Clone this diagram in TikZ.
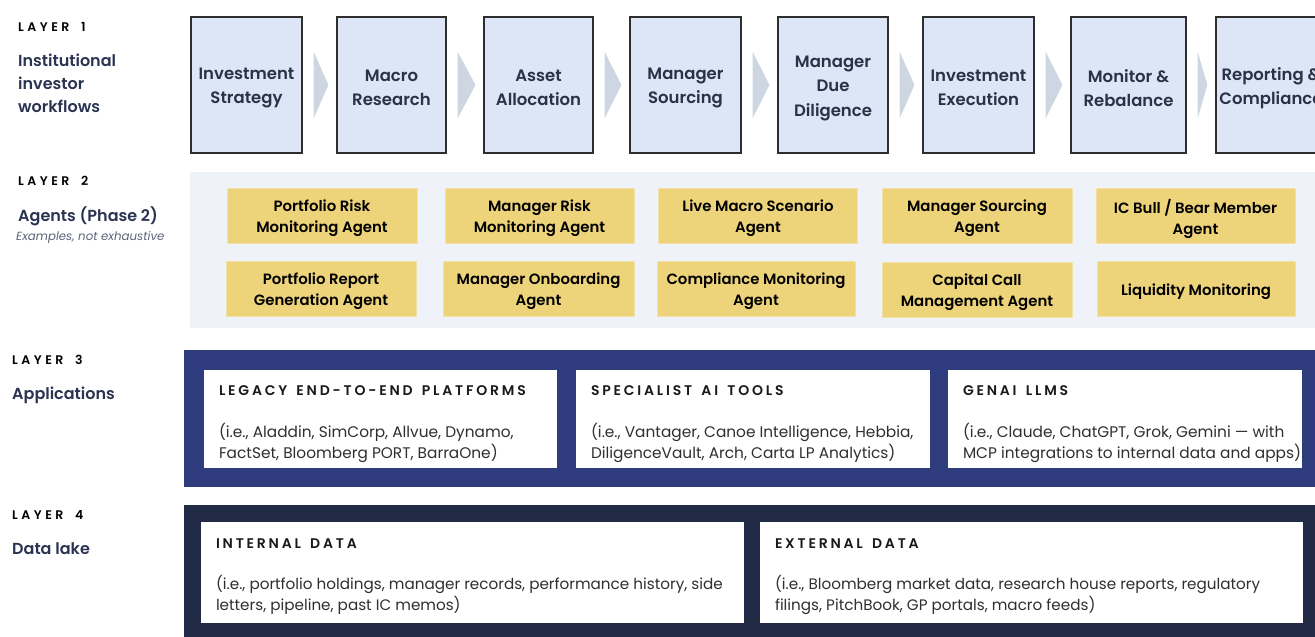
\documentclass[tikz,border=0pt]{standalone}
\usepackage{fontspec}
\setmainfont{Poppins}
\newfontfamily\semib{Poppins SemiBold}
\newfontfamily\trackb{Poppins SemiBold}[LetterSpace=28, WordSpace=1.8]
\newfontfamily\headb{Poppins SemiBold}[LetterSpace=20, WordSpace=1.5]
\usetikzlibrary{calc}

\definecolor{wffill}{HTML}{DCE6F6}
\definecolor{wfedge}{HTML}{2E2E2E}
\definecolor{wftext}{HTML}{283248}
\definecolor{chevc}{HTML}{CED6E2}
\definecolor{agentbg}{HTML}{EFF2F8}
\definecolor{agentfill}{HTML}{EDD37A}
\definecolor{agentedge}{HTML}{F3E2A6}
\definecolor{appsnavy}{HTML}{2E3B7C}
\definecolor{datanavy}{HTML}{212B45}
\definecolor{labelnavy}{HTML}{2A3352}
\definecolor{bodytext}{HTML}{2F2F2F}
\definecolor{notegray}{HTML}{5B6378}

\begin{document}
\begin{tikzpicture}[x=1pt,y=-1pt,
  layertag/.style={anchor=base west, inner sep=0pt, text=black,
    font=\trackb\fontsize{12.5}{14}\selectfont},
  layername/.style={anchor=base west, inner sep=0pt, text=labelnavy, align=left,
    font=\semib\fontsize{16}{23}\selectfont},
  wftxt/.style={align=center, text=wftext, inner sep=0pt, yshift=-3pt,
    font=\semib\fontsize{16.5}{24.5}\selectfont},
  wf/.style={draw=wfedge, line width=1.1pt, fill=wffill, minimum height=136pt,
    inner sep=0pt, label={[wftxt]center:#1}},
  chevron/.style={fill=chevc},
  agenttxt/.style={align=center, text=black, inner sep=0pt, yshift=-3pt,
    font=\semib\fontsize{14.9}{21}\selectfont},
  agent/.style={draw=agentedge, line width=0.8pt, fill=agentfill, minimum height=55pt,
    inner sep=0pt, label={[agenttxt]center:#1}},
  whitebox/.style={fill=white, inner sep=0pt},
  boxhead/.style={anchor=base west, inner sep=0pt, text=black!90,
    font=\headb\fontsize{14}{16}\selectfont},
  appbody/.style={anchor=base west, inner sep=0pt, text=bodytext, align=left,
    font=\fontsize{15.35}{21}\selectfont},
  databody/.style={anchor=base west, inner sep=0pt, text=bodytext, align=left,
    font=\fontsize{15.2}{21}\selectfont},
]
\useasboundingbox (0,0) rectangle (1315,637);
\clip (0,0) rectangle (1315,637);

% ---------- Layer 1: workflow steps ----------
\node[layertag] (t1) at (18,31.5) {LAYER 1};
\node[layername] (n1) at (18,112) {Institutional\\investor\\workflows};

\node[wf={Investment\\Strategy}, minimum width=111pt] (w1) at (246.5,85) {};
\node[wf={Macro\\Research}, minimum width=109pt] (w2) at (391.5,85) {};
\node[wf={Asset\\Allocation}, minimum width=109pt] (w3) at (538.5,85) {};
\node[wf={Manager\\Sourcing}, minimum width=111pt] (w4) at (685.5,85) {};
\node[wf={Manager\\Due\\Diligence}, minimum width=110pt] (w5) at (833,85) {};
\node[wf={Investment\\Execution}, minimum width=111pt] (w6) at (978.5,85) {};
\node[wf={Monitor \&\\Rebalance}, minimum width=115pt] (w7) at (1128.5,85) {};
\node[wf={Reporting \&\\Compliance}, minimum width=110pt] (w8) at (1271,85) {};

% chevrons between consecutive steps
\foreach \a/\b in {w1/w2,w2/w3,w3/w4,w4/w5,w5/w6,w6/w7,w7/w8}{
  \fill[chevron] ([shift={(11,-33.5)}]\a.east) -- ([shift={(-8,0)}]\b.west)
    -- ([shift={(11,33.5)}]\a.east) -- cycle;
}

% ---------- Layer 2: agents ----------
\node[layertag] (t2) at (18,185.5) {LAYER 2};
\node[layername] (n2) at (18,221) {Agents (Phase 2)};
\node[anchor=base west, inner sep=0pt, text=notegray,
  font=\itshape\fontsize{11.8}{14}\selectfont] (e2) at (16,240.5) {Examples, not exhaustive};

\fill[agentbg] (190,172) rectangle (1315,328);

\node[agent={Portfolio Risk\\Monitoring Agent}, minimum width=190pt] (a11) at (322,215.5) {};
\node[agent={Manager Risk\\Monitoring Agent}, minimum width=189pt] (a12) at (539.5,215.5) {};
\node[agent={Live Macro Scenario\\Agent}, minimum width=199pt] (a13) at (758,215.5) {};
\node[agent={Manager Sourcing\\Agent}, minimum width=190pt] (a14) at (977,215.5) {};
\node[agent={IC Bull / Bear Member\\Agent}, minimum width=199pt] (a15) at (1195.5,215.5) {};

\node[agent={Portfolio Report\\Generation Agent}, minimum width=190pt] (a21) at (321,288.5) {};
\node[agent={Manager Onboarding\\Agent}, minimum width=191pt] (a22) at (538.5,288.5) {};
\node[agent={Compliance Monitoring\\Agent}, minimum width=198pt] (a23) at (756,288.5) {};
\node[agent={Capital Call\\Management Agent}, minimum width=190pt] (a24) at (977,289.5) {};
\node[agent={Liquidity Monitoring}, minimum width=198pt] (a25) at (1196,288.5) {};

% ---------- Layer 3: applications ----------
\node[layertag] (t3) at (12,364.5) {LAYER 3};
\node[layername] (n3) at (12,399) {Applications};

\fill[appsnavy] (184,350) rectangle (1315,487);

\node[whitebox, minimum width=353pt, minimum height=98pt] (b31) at (380.5,419) {};
\node[whitebox, minimum width=354pt, minimum height=98pt] (b32) at (753,419) {};
\node[whitebox, minimum width=354pt, minimum height=98pt] (b33) at (1125,419) {};

\node[boxhead] (h31) at ([shift={(15,26)}]b31.north west) {LEGACY END-TO-END PLATFORMS};
\node[appbody] (d31) at ([shift={(15,89)}]b31.north west)
  {(i.e., Aladdin, SimCorp, Allvue, Dynamo,\\FactSet, Bloomberg PORT, BarraOne)};
\node[boxhead] (h32) at ([shift={(15,26)}]b32.north west) {SPECIALIST AI TOOLS};
\node[appbody] (d32) at ([shift={(15,89)}]b32.north west)
  {(i.e., Vantager, Canoe Intelligence, Hebbia,\\DiligenceVault, Arch, Carta LP Analytics)};
\node[boxhead] (h33) at ([shift={(15,26)}]b33.north west) {GENAI LLMS};
\node[appbody] (d33) at ([shift={(15,89)}]b33.north west)
  {(i.e., Claude, ChatGPT, Grok, Gemini — with\\MCP integrations to internal data and apps)};

% ---------- Layer 4: data lake ----------
\node[layertag] (t4) at (12,519.5) {LAYER 4};
\node[layername] (n4) at (12,554) {Data lake};

\fill[datanavy] (184,505) rectangle (1315,640);

\node[whitebox, minimum width=543pt, minimum height=101pt] (b41) at (472.5,572.5) {};
\node[whitebox, minimum width=543pt, minimum height=101pt] (b42) at (1031.5,572.5) {};

\node[boxhead] (h41) at ([shift={(15,27)}]b41.north west) {INTERNAL DATA};
\node[databody] (d41) at ([shift={(15,89)}]b41.north west)
  {(i.e., portfolio holdings, manager records, performance history, side\\letters, pipeline, past IC memos)};
\node[boxhead] (h42) at ([shift={(15,27)}]b42.north west) {EXTERNAL DATA};
\node[databody] (d42) at ([shift={(15,89)}]b42.north west)
  {(i.e., Bloomberg market data, research house reports, regulatory\\filings, PitchBook, GP portals, macro feeds)};
\end{tikzpicture}
\end{document}
